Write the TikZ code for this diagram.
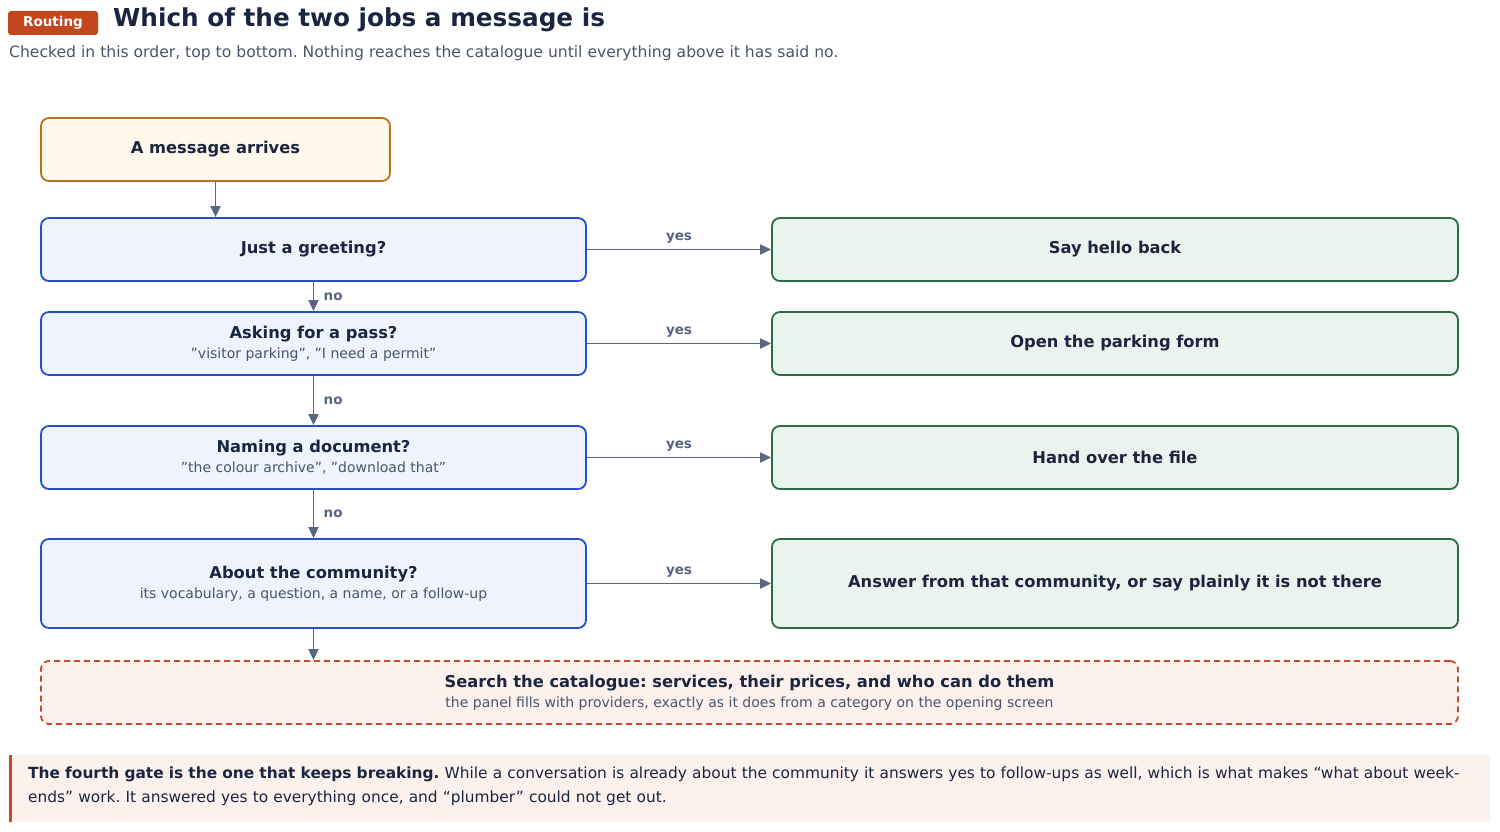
\documentclass[tikz,border=0pt]{standalone}
\usepackage{fontspec}
\setmainfont{DejaVu Sans}
\usetikzlibrary{arrows.meta}
\definecolor{ink}{HTML}{1A2540}
\definecolor{sub}{HTML}{4A5568}
\definecolor{arr}{HTML}{5A6680}
\definecolor{qfill}{HTML}{EEF3FD}\definecolor{qline}{HTML}{2450C8}
\definecolor{afill}{HTML}{EAF4EE}\definecolor{aline}{HTML}{2E6B45}
\definecolor{sfill}{HTML}{FFF8EC}\definecolor{sline}{HTML}{B8741A}
\definecolor{cfill}{HTML}{FDF1EE}\definecolor{cline}{HTML}{C8482A}
\definecolor{badge}{HTML}{C4461F}
\tikzset{
 box/.style={draw, line width=1.8pt, rounded corners=8pt, align=center, inner sep=0pt},
 q/.style={box, fill=qfill, draw=qline, minimum width=545pt},
 a/.style={box, fill=afill, draw=aline, minimum width=686pt},
 t/.style={font=\fontsize{16.3}{19}\selectfont\bfseries, text=ink},
 lab/.style={font=\fontsize{13.5}{15}\selectfont\bfseries, text=arr},
 con/.style={draw=arr, line width=1.8pt, -{Triangle[length=11pt,width=10pt]}},
}
\newcommand{\twol}[2]{{\fontsize{16.3}{19}\selectfont\bfseries\color{ink}#1}\\[5pt]{\fontsize{14}{16}\selectfont\color{sub}#2}}
\newcommand{\q}{\symbol{34}}
\begin{document}
\frenchspacing
\begin{tikzpicture}[x=1pt,y=-1pt]
\useasboundingbox (0,0) rectangle (1500,832);
\fill[white] (0,0) rectangle (1500,832);
\node[fill=badge, rounded corners=3pt, minimum width=90pt, minimum height=24pt, text=white, font=\fontsize{13.5}{15}\selectfont\bfseries] (badge) at (53,23) {Routing};
\node[anchor=west, text=ink, font=\fontsize{24.7}{28}\selectfont\bfseries, inner sep=0pt] (title) at (113,20) {Which of the two jobs a message is};
\node[anchor=west, text=sub, font=\fontsize{15.6}{18}\selectfont, inner sep=0pt] (subt) at (9,53) {Checked in this order, top to bottom. Nothing reaches the catalogue until everything above it has said no.};

\node[box, fill=sfill, draw=sline, minimum width=349pt, minimum height=63pt, t] (start) at (215.5,149.5) {A message arrives};
\node[q, minimum height=63pt, t] (q1) at (313.5,249.5) {Just a greeting?};
\node[q, minimum height=63pt] (q2) at (313.5,343.5) {\twol{Asking for a pass?}{\q visitor parking\q, \q I need a permit\q}};
\node[q, minimum height=63pt] (q3) at (313.5,457.5) {\twol{Naming a document?}{\q the colour archive\q, \q download that\q}};
\node[q, minimum height=89pt] (q4) at (313.5,583.5) {\twol{About the community?}{its vocabulary, a question, a name, or a follow-up}};
\node[a, minimum height=63pt, t] (a1) at (1115,249.5) {Say hello back};
\node[a, minimum height=63pt, t] (a2) at (1115,343.5) {Open the parking form};
\node[a, minimum height=63pt, t] (a3) at (1115,457.5) {Hand over the file};
\node[a, minimum height=89pt, t] (a4) at (1115,583.5) {Answer from that community, or say plainly it is not there};
\node[box, dashed, dash pattern=on 6pt off 4pt, fill=cfill, draw=cline, minimum width=1417pt, minimum height=63pt] (cat) at (749.5,692.5) {\twol{Search the catalogue: services, their prices, and who can do them}{the panel fills with providers, exactly as it does from a category on the opening screen}};

\draw[con] (start.south) -- (start.south |- q1.north);
\draw[con] (q1) -- node[lab, right=6pt]{no} (q2);
\draw[con] (q2) -- node[lab, right=6pt]{no} (q3);
\draw[con] (q3) -- node[lab, right=6pt]{no} (q4);
\draw[con] (q4) -- (q4.south |- cat.north);
\foreach \i in {1,2,3,4} \draw[con] (q\i) -- node[lab, above=2pt]{yes} (a\i);

\fill[cfill] (9,755) rectangle (1490,822);
\fill[cline] (9,755) rectangle (12,822);
\node[anchor=north west, inner sep=0pt, text width=1440pt, align=left, text=ink, font=\fontsize{15.4}{24}\selectfont] (note) at (28,767) {\textbf{The fourth gate is the one that keeps breaking.} While a conversation is already about the community it answers yes to follow-ups as well, which is what makes “what about weekends” work. It answered yes to everything once, and “plumber” could not get out.};
\end{tikzpicture}
\end{document}
